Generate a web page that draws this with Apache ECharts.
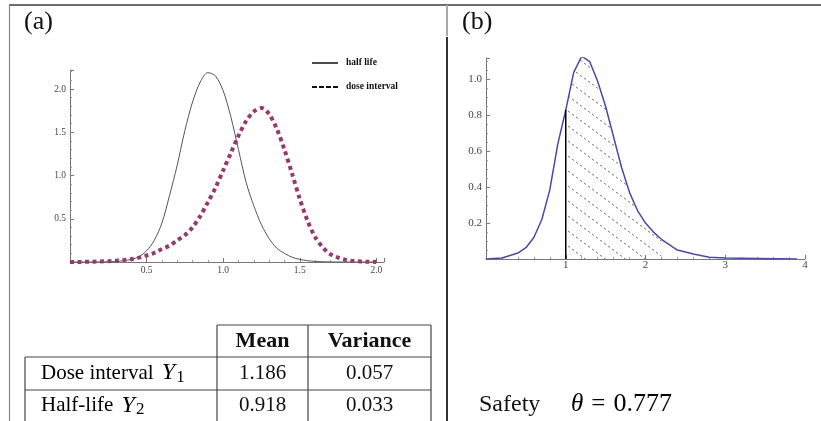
<!DOCTYPE html>
<html>
<head>
<meta charset="utf-8">
<script src="https://cdn.jsdelivr.net/npm/echarts@6/dist/echarts.min.js"></script>
<style>
html,body{margin:0;padding:0;background:#fff;}
#c{width:821px;height:421px;}
</style>
</head>
<body>
<div id="c"></div>
<script>
// ---------- DATA ----------
// Panel (a): densities on a common x grid
const xA = [0,0.05,0.1,0.15,0.2,0.25,0.3,0.35,0.4,0.45,0.5,0.55,0.6,0.65,0.7,0.75,0.8,0.85,0.9,0.95,1.0,1.05,1.1,1.15,1.2,1.25,1.3,1.35,1.4,1.45,1.5,1.55,1.6,1.65,1.7,1.75,1.8,1.85,1.9,1.95,2.0];
const halfLife = [0,0,0,0,0.001,0.003,0.007,0.015,0.03,0.06,0.13,0.25,0.45,0.77,1.12,1.52,1.85,2.08,2.19,2.15,1.98,1.68,1.30,0.92,0.65,0.43,0.27,0.16,0.10,0.055,0.03,0.015,0.007,0.003,0.001,0,0,0,0,0,0];
const doseInterval = [0,0.001,0.002,0.004,0.006,0.01,0.015,0.022,0.033,0.05,0.075,0.105,0.15,0.19,0.25,0.31,0.40,0.53,0.69,0.86,1.06,1.26,1.46,1.63,1.74,1.78,1.71,1.54,1.30,1.02,0.73,0.48,0.29,0.17,0.09,0.05,0.025,0.012,0.006,0.003,0.001];
const seriesNamesA = ['half life','dose interval'];
const ticksA_x = [0.5,1.0,1.5,2.0];
const ticksA_y = [0.5,1.0,1.5,2.0];

// Panel (b): density of the ratio, with threshold and shaded range
const xB = [0,0.2,0.4,0.5,0.6,0.7,0.8,0.9,1.0,1.1,1.2,1.3,1.4,1.5,1.6,1.7,1.8,1.9,2.0,2.1,2.2,2.4,2.6,2.8,3.0,3.4,3.9];
const yB = [0,0.006,0.033,0.063,0.12,0.22,0.385,0.64,0.83,1.04,1.13,1.10,0.99,0.85,0.68,0.51,0.37,0.27,0.20,0.15,0.11,0.05,0.028,0.01,0.005,0.003,0];
const threshold = 1;
const hatchEnd = 2.2;
const ticksB_x = [1,2,3,4];
const ticksB_y = [0.2,0.4,0.6,0.8,1.0];

// Table
const tableHeader = ['Mean','Variance'];
const tableRows = [
  {label:'Dose interval ', sym:'Y', sub:'1', mean:'1.186', variance:'0.057'},
  {label:'Half-life ', sym:'Y', sub:'2', mean:'0.918', variance:'0.033'}
];
const safetyLabel = 'Safety';
const safetyValue = '0.777';

// ---------- BUILD ----------
const serif = 'Liberation Serif';
const pairsA1 = xA.map((x,i)=>[x, halfLife[i]]);
const pairsA2 = xA.map((x,i)=>[x, doseInterval[i]]);
const pairsB = xB.map((x,i)=>[x, yB[i]]);
const hatchPairs = pairsB.filter(p=>p[0] >= threshold && p[0] <= hatchEnd);
const thrY = yB[xB.indexOf(threshold)];

// hatch pattern
const pc = document.createElement('canvas');
pc.width = 20; pc.height = 15;
const pctx = pc.getContext('2d');
pctx.strokeStyle = '#555';
pctx.lineWidth = 0.8;
pctx.setLineDash([2.5,2.5]);
pctx.beginPath();
pctx.moveTo(-20,-15);
pctx.lineTo(40,30);
pctx.stroke();

function axisCommon(){
  return {
    axisLine:{show:true, onZero:false, lineStyle:{color:'#777', width:1}},
    axisTick:{show:true, inside:true, length:4, lineStyle:{color:'#777'}},
    splitLine:{show:false},
    minorSplitLine:{show:false}
  };
}

const chart = echarts.init(document.getElementById('c'));
const option = {
  animation:false,
  backgroundColor:'#fff',
  grid:[
    {left:70, top:70, width:314, height:192},
    {left:486, top:58, width:319, height:201}
  ],
  xAxis:[
    Object.assign(axisCommon(), {gridIndex:0, type:'value', min:0, max:2.05, interval:0.5,
      minorTick:{show:true, splitNumber:5, length:2, lineStyle:{color:'#999'}},
      axisLabel:{margin:3, fontFamily:serif, fontSize:9.5, color:'#444',
        formatter:v=> ticksA_x.some(t=>Math.abs(t-v)<1e-6) ? v.toFixed(1) : ''}}),
    Object.assign(axisCommon(), {gridIndex:1, type:'value', min:0, max:4, interval:1,
      minorTick:{show:true, splitNumber:5, length:2, lineStyle:{color:'#999'}},
      axisLabel:{margin:1, fontFamily:serif, fontSize:11, color:'#444',
        formatter:v=> ticksB_x.some(t=>Math.abs(t-v)<1e-6) ? String(v) : ''}})
  ],
  yAxis:[
    Object.assign(axisCommon(), {gridIndex:0, type:'value', min:0, max:2.22, interval:0.5,
      minorTick:{show:true, splitNumber:5, length:2, lineStyle:{color:'#999'}},
      axisLabel:{margin:4, fontFamily:serif, fontSize:9.5, color:'#444',
        formatter:v=> ticksA_y.some(t=>Math.abs(t-v)<1e-6) ? v.toFixed(1) : ''}}),
    Object.assign(axisCommon(), {gridIndex:1, type:'value', min:0, max:1.12, interval:0.2,
      minorTick:{show:true, splitNumber:4, length:2, lineStyle:{color:'#999'}},
      axisLabel:{margin:4, fontFamily:serif, fontSize:11, color:'#444',
        formatter:v=> ticksB_y.some(t=>Math.abs(t-v)<1e-6) ? v.toFixed(1) : ''}})
  ],
  legend:{
    orient:'vertical', left:307, top:53, itemWidth:26, itemHeight:14, itemGap:14,
    textStyle:{fontFamily:serif, fontWeight:'bold', fontSize:9.5, color:'#111', padding:[0,0,0,3]},
    data:[
      {name:seriesNamesA[0], icon:'path://M0,6L26,6L26,7.5L0,7.5Z', itemStyle:{color:'#111'}},
      {name:seriesNamesA[1], icon:'path://M0,6L5,6L5,8L0,8ZM7,6L12,6L12,8L7,8ZM14,6L19,6L19,8L14,8ZM21,6L26,6L26,8L21,8Z', itemStyle:{color:'#111'}}
    ]
  },
  series:[
    {name:seriesNamesA[0], type:'line', xAxisIndex:0, yAxisIndex:0, data:pairsA1, smooth:0.3,
      symbol:'none', lineStyle:{color:'#555', width:1}, itemStyle:{color:'#555'}, z:3},
    {name:seriesNamesA[1], type:'line', xAxisIndex:0, yAxisIndex:0, data:pairsA2, smooth:0.3,
      symbol:'none', lineStyle:{color:'#963a6e', width:4, type:[4,3.5], cap:'butt'}, itemStyle:{color:'#963a6e'}, z:4},
    {name:'hatch', type:'line', xAxisIndex:1, yAxisIndex:1, data:hatchPairs, symbol:'none',
      lineStyle:{width:0, opacity:0}, areaStyle:{color:{image:pc, repeat:'repeat'}, opacity:1}, z:1},
    {name:'density', type:'line', xAxisIndex:1, yAxisIndex:1, data:pairsB, symbol:'none',
      lineStyle:{color:'#4a4aa6', width:1.5}, itemStyle:{color:'#4a4aa6'}, z:3},
    {name:'threshold', type:'line', xAxisIndex:1, yAxisIndex:1, data:[[threshold,0],[threshold,thrY]], symbol:'none',
      lineStyle:{color:'#000', width:1.5}, z:4}
  ],
  graphic:[
    {type:'line', shape:{x1:9,y1:5,x2:821,y2:5}, style:{stroke:'#6e6e6e', lineWidth:2}, silent:true},
    {type:'line', shape:{x1:9.5,y1:5,x2:9.5,y2:421}, style:{stroke:'#888', lineWidth:1.2}, silent:true},
    {type:'line', shape:{x1:447,y1:5,x2:447,y2:36}, style:{stroke:'#aaa', lineWidth:2}, silent:true},
    {type:'line', shape:{x1:447,y1:37,x2:447,y2:421}, style:{stroke:'#333', lineWidth:2}, silent:true},
    {type:'text', left:24, top:9, style:{text:'(a)', font:'26px "Liberation Serif"', fill:'#111'}},
    {type:'text', left:462, top:9, style:{text:'(b)', font:'26px "Liberation Serif"', fill:'#111'}},
    // table grid
    {type:'line', shape:{x1:217,y1:325,x2:431,y2:325}, style:{stroke:'#444', lineWidth:1.2}, silent:true},
    {type:'line', shape:{x1:25,y1:357,x2:431,y2:357}, style:{stroke:'#444', lineWidth:1.2}, silent:true},
    {type:'line', shape:{x1:25,y1:390,x2:431,y2:390}, style:{stroke:'#444', lineWidth:1.2}, silent:true},
    {type:'line', shape:{x1:217,y1:325,x2:217,y2:421}, style:{stroke:'#444', lineWidth:1.2}, silent:true},
    {type:'line', shape:{x1:308,y1:325,x2:308,y2:421}, style:{stroke:'#444', lineWidth:1.2}, silent:true},
    {type:'line', shape:{x1:431,y1:325,x2:431,y2:421}, style:{stroke:'#444', lineWidth:1.2}, silent:true},
    {type:'line', shape:{x1:25,y1:357,x2:25,y2:421}, style:{stroke:'#444', lineWidth:1.2}, silent:true},
    {type:'text', x:262.5, y:341, style:{text:tableHeader[0], font:'bold 22px "Liberation Serif"', fill:'#111', align:'center', verticalAlign:'middle'}},
    {type:'text', x:369.5, y:341, style:{text:tableHeader[1], font:'bold 22px "Liberation Serif"', fill:'#111', align:'center', verticalAlign:'middle'}}
  ].concat(tableRows.flatMap((r,i)=>{
    const cy = 373 + i*32.5;
    return [
      {type:'text', x:41, y:cy, style:{
        text:'{t|'+r.label+'}{y|'+r.sym+'}{s|'+r.sub+'}', align:'left', verticalAlign:'middle',
        rich:{
          t:{fontFamily:serif, fontSize:21, color:'#111', lineHeight:26, verticalAlign:'middle'},
          y:{fontFamily:serif, fontStyle:'italic', fontSize:24, color:'#111', lineHeight:26, verticalAlign:'middle', padding:[0,1,0,3]},
          s:{fontFamily:serif, fontSize:17, color:'#111', lineHeight:14, verticalAlign:'bottom'}
        }}},
      {type:'text', x:262.5, y:cy, style:{text:r.mean, font:'21px "Liberation Serif"', fill:'#111', align:'center', verticalAlign:'middle'}},
      {type:'text', x:369.5, y:cy, style:{text:r.variance, font:'21px "Liberation Serif"', fill:'#111', align:'center', verticalAlign:'middle'}}
    ];
  })).concat([
    {type:'text', x:479, y:405, style:{text:safetyLabel, font:'24px "Liberation Serif"', fill:'#111', align:'left', verticalAlign:'middle'}},
    {type:'text', x:571, y:404, style:{
      text:'{th|θ}{b|=}{c|'+safetyValue+'}', align:'left', verticalAlign:'middle',
      rich:{
        th:{fontFamily:serif, fontStyle:'italic', fontSize:25, color:'#111'},
        b:{fontFamily:serif, fontSize:25, color:'#111', padding:[0,8,0,8]},
        c:{fontFamily:serif, fontSize:26, color:'#111'}
      }}}
  ])
};
chart.setOption(option);
</script>
</body>
</html>
